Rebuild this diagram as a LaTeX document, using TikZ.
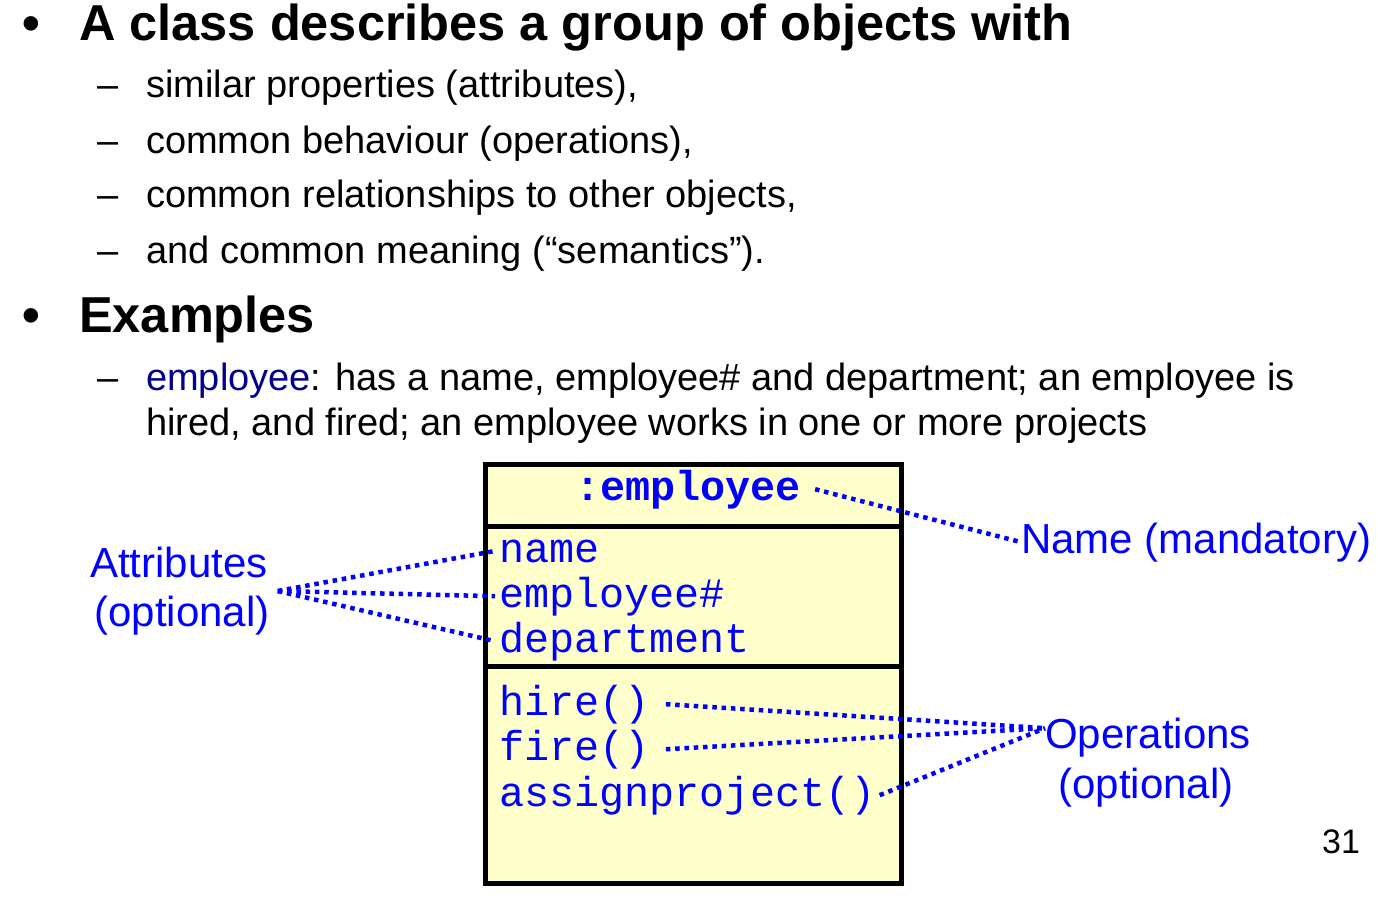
\documentclass[tikz,border=0pt]{standalone}
\usepackage{fontspec}
\setmainfont{Liberation Sans}
\setmonofont{Liberation Mono}
\usepackage{tikz}
\usetikzlibrary{positioning}
\definecolor{umlblue}{RGB}{0,0,255}
\definecolor{navyword}{RGB}{0,0,140}
\definecolor{classfill}{RGB}{255,255,204}
\tikzset{
  head/.style={anchor=base west, inner sep=0pt, font=\fontsize{50.5}{60}\selectfont\bfseries},
  item/.style={anchor=base west, inner sep=0pt, font=\fontsize{38}{45}\selectfont},
  member/.style={anchor=base west, inner xsep=4pt, inner ysep=0pt, text=umlblue, font=\fontsize{41.8}{45}\ttfamily},
  note/.style={text=umlblue, font=\fontsize{42}{49}\selectfont, align=center, inner sep=0pt},
  hint/.style={draw=umlblue, line width=4.5pt, dash pattern=on 4.5pt off 4.8pt},
}

\begin{document}
\begin{tikzpicture}[x=1pt,y=-1pt]
\useasboundingbox (0,0) rectangle (1378,905);
% first bullet with its four points
\node[head] (b1) at (22,40) {•};
\node[head] (t1) at (79,40) {A class describes a group of objects with};
\node[item] (d1) at (97,97) {–};
\node[item] (s1) at (146,97) {similar properties (attributes),};
\node[item] (d2) at (97,153) {–};
\node[item] (s2) at (146,153) {common behaviour (operations),};
\node[item] (d3) at (97,207) {–};
\node[item] (s3) at (146,207) {common relationships to other objects,};
\node[item] (d4) at (97,263) {–};
\node[item] (s4) at (146,263) {and common meaning (“semantics”).};
% second bullet
\node[head] (b2) at (22,332) {•};
\node[head] (t2) at (79,332) {Examples};
\node[item] (d5) at (97,390) {–};
\node[item] (e1) at (146,390) {\textcolor{navyword}{employee}: has a name, employee\# and department; an employee is};
\node[item] (e2) at (146,435) {hired, and fired; an employee works in one or more projects};
% the class box
\node[draw=black, line width=4.5pt, fill=classfill, minimum width=416pt, minimum height=419pt, inner sep=0pt] (cls) at (693.5,674) {};
\coordinate (divA) at (485.5,526.5);
\coordinate (divB) at (485.5,666.5);
\draw[line width=4.5pt] (divA) -- (divA -| cls.east);
\draw[line width=4.5pt] (divB) -- (divB -| cls.east);
\node[member, anchor=base, font=\fontsize{41.8}{45}\ttfamily\bfseries] (cname) at (688,500) {:employee};
\node[member] (nm) at (495,562) {name};
\node[member] (num) at (495,607) {employee\#};
\node[member] (dep) at (495,652) {department};
\node[member] (hire) at (495,715) {hire()};
\node[member] (fire) at (495,760) {fire()};
\node[member] (asg) at (495,806) {assignproject()};
% labels round the box
\node[note] (attr) at (179,591) {Attributes\\\hspace*{6pt}(optional)};
\node[note, anchor=base west] (mand) at (1021,553) {Name (mandatory)};
\node[note, anchor=base] (opsA) at (1148,748) {Operations};
\node[note, anchor=base] (opsB) at (1146,798) {(optional)};
\node[item, font=\fontsize{34}{40}\selectfont] (pg) at (1322,853) {31};
% dotted pointers
\draw[hint] ([xshift=8pt]attr.east) -- (nm.west);
\draw[hint] ([xshift=8pt]attr.east) -- (num.west);
\draw[hint] ([xshift=8pt]attr.east) -- (dep.west);
\draw[hint] ([xshift=10pt]cname.east) -- (mand.west);
\draw[hint] ([xshift=12pt]hire.east) -- ([yshift=9pt]opsA.west);
\draw[hint] ([xshift=12pt]fire.east) -- ([yshift=9pt]opsA.west);
\draw[hint] (asg.east) -- ([yshift=9pt]opsA.west);
\end{tikzpicture}
\end{document}
